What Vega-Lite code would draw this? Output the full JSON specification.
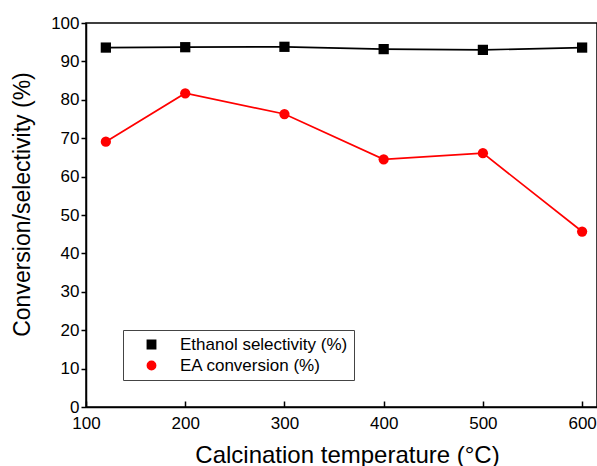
{
  "$schema": "https://vega.github.io/schema/vega-lite/v6.json",
  "autosize": "none",
  "padding": {"left": 86, "top": 23, "right": 0, "bottom": 59},
  "width": 511,
  "height": 384,
  "background": "white",
  "config": {
    "font": "Liberation Sans",
    "view": {"stroke": "black", "strokeWidth": 1.5},
    "axis": {"grid": false, "domainColor": "black", "domainWidth": 1.5, "tickColor": "black", "tickWidth": 1.5, "labelColor": "black", "titleColor": "black", "labelFont": "Liberation Sans", "titleFont": "Liberation Sans", "labelFontSize": 17, "titleFontSize": 23, "titleFontWeight": "normal", "labelFlush": false}
  },
  "data": {"values": [
    {"t": 120, "v": 93.6, "s": "Ethanol selectivity (%)"},
    {"t": 200, "v": 93.7, "s": "Ethanol selectivity (%)"},
    {"t": 300, "v": 93.8, "s": "Ethanol selectivity (%)"},
    {"t": 400, "v": 93.2, "s": "Ethanol selectivity (%)"},
    {"t": 500, "v": 93.0, "s": "Ethanol selectivity (%)"},
    {"t": 600, "v": 93.6, "s": "Ethanol selectivity (%)"},
    {"t": 120, "v": 69.1, "s": "EA conversion (%)"},
    {"t": 200, "v": 81.7, "s": "EA conversion (%)"},
    {"t": 300, "v": 76.3, "s": "EA conversion (%)"},
    {"t": 400, "v": 64.5, "s": "EA conversion (%)"},
    {"t": 500, "v": 66.1, "s": "EA conversion (%)"},
    {"t": 600, "v": 45.7, "s": "EA conversion (%)"}
  ]},
  "encoding": {
    "x": {"field": "t", "type": "quantitative", "scale": {"domain": [100, 615], "nice": false, "zero": false},
      "axis": {"values": [100, 200, 300, 400, 500, 600], "tickSize": -6, "labelPadding": 14, "title": "Calcination temperature (°C)", "titlePadding": 12, "titleFontSize": 24, "titleX": 261}},
    "y": {"field": "v", "type": "quantitative", "scale": {"domain": [0, 100], "nice": false},
      "axis": {"values": [0, 10, 20, 30, 40, 50, 60, 70, 80, 90, 100], "tickSize": 5, "labelPadding": 2, "title": "Conversion/selectivity (%)", "titlePadding": 16, "titleY": 181}},
    "color": {"field": "s", "type": "nominal",
      "scale": {"domain": ["Ethanol selectivity (%)", "EA conversion (%)"], "range": ["black", "red"]},
      "legend": {
        "title": null, "orient": "none", "legendX": 37, "legendY": 307,
        "strokeColor": "#444", "fillColor": "white", "padding": 6,
        "labelFontSize": 17, "labelFont": "Liberation Sans", "labelColor": "black", "labelLimit": 400,
        "symbolSize": 70, "symbolOffset": 14, "labelOffset": 20, "rowPadding": 3,
        "symbolOpacity": 1
      }}
  },
  "layer": [
    {"mark": {"type": "line", "strokeWidth": 1.7}},
    {"mark": {"type": "point", "filled": true, "size": 105, "opacity": 1},
      "encoding": {"shape": {"field": "s", "type": "nominal", "scale": {"domain": ["Ethanol selectivity (%)", "EA conversion (%)"], "range": ["square", "circle"]}, "legend": null}}}
  ]
}
